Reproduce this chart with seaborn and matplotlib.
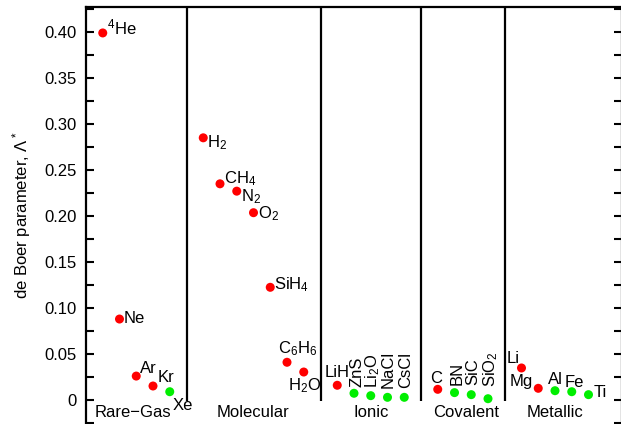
import matplotlib
matplotlib.use("Agg")
import matplotlib.pyplot as plt
import seaborn as sns
import pandas as pd
from matplotlib.ticker import MultipleLocator, FuncFormatter

# ---- data ----
labels = ["$^4$He", "Ne", "Ar", "Kr", "Xe",
          "H$_2$", "CH$_4$", "N$_2$", "O$_2$", "SiH$_4$", "C$_6$H$_6$", "H$_2$O",
          "LiH", "ZnS", "Li$_2$O", "NaCl", "CsCl",
          "C", "BN", "SiC", "SiO$_2$",
          "Li", "Mg", "Al", "Fe", "Ti"]
xpos = [1, 2, 3, 4, 5,
        7, 8, 9, 10, 11, 12, 13,
        15, 16, 17, 18, 19,
        21, 22, 23, 24,
        26, 27, 28, 29, 30]
boer = [0.399, 0.088, 0.026, 0.0152, 0.009,
        0.285, 0.235, 0.227, 0.2036, 0.1225, 0.041, 0.0304,
        0.016, 0.0073, 0.0047, 0.0029, 0.0029,
        0.0116, 0.008, 0.0058, 0.0014,
        0.0348, 0.0127, 0.0101, 0.009, 0.0058]
kind = ["r", "r", "r", "r", "g",
        "r", "r", "r", "r", "r", "r", "r",
        "r", "g", "g", "g", "g",
        "r", "g", "g", "g",
        "r", "r", "g", "g", "g"]
groups = ["Rare\u2212Gas", "Molecular", "Ionic", "Covalent", "Metallic"]
group_x = [2.8, 10, 17, 22.7, 28]
dividers = [6, 14, 20, 25]

# label placement (offset in pixels, rotation, alignment)
offsets = [(4, -1, 0, "left"), (4, -4, 0, "left"), (4, 3, 0, "left"), (5, 4, 0, "left"), (3, -18, 0, "left"),
           (4, -9, 0, "left"), (4, 1, 0, "left"), (4, -10, 0, "left"), (4, -6, 0, "left"), (4, -2, 0, "left"),
           (-9, 9, 0, "left"), (-16, -18, 0, "left"),
           (-13, 8, 0, "left"), (2.5, 6, 90, "center"), (1.5, 8, 90, "center"), (1, 9, 90, "center"), (1, 9, 90, "center"),
           (-2, 6, 0, "center"), (2.5, 8, 90, "center"), (1.5, 10, 90, "center"), (3, 12, 90, "center"),
           (-2, 5, 0, "right"), (-5, 2, 0, "right"), (-7, 7, 0, "left"), (-7, 5, 0, "left"), (5, -2, 0, "left")]

sns.set_style("ticks")
plt.rcParams["font.family"] = ["Liberation Sans", "DejaVu Sans"]
plt.rcParams["mathtext.fontset"] = "custom"
plt.rcParams["mathtext.rm"] = "Liberation Sans"
plt.rcParams["mathtext.default"] = "regular"
plt.rcParams["font.size"] = 12
plt.rcParams["text.color"] = "black"
plt.rcParams["axes.labelcolor"] = "black"
plt.rcParams["ytick.color"] = "black"

df = pd.DataFrame({"x": xpos, "y": boer, "kind": kind})

fig = plt.figure(figsize=(6.21, 4.24), dpi=100)
ax = fig.add_axes([86 / 621, 0.0, (622 - 86) / 621, (424 - 7) / 424])

sns.scatterplot(data=df, x="x", y="y", hue="kind", palette={"r": "#ff0000", "g": "#00ee00"},
                s=42, edgecolor="none", legend=False, ax=ax, zorder=3)

for lab, xx, yy, (dx, dy, rot, ha) in zip(labels, xpos, boer, offsets):
    if rot == 90:
        ax.annotate(lab, (xx, yy), xytext=(dx, dy), textcoords="offset pixels",
                    rotation=90, ha="center", va="bottom", fontsize=12)
    else:
        ax.annotate(lab, (xx, yy), xytext=(dx, dy), textcoords="offset pixels",
                    ha=ha, va="baseline", fontsize=12)

ax.vlines(dividers, ymin=-0.001, ymax=0.5, colors="black", linewidth=1.6)

for g, gx in zip(groups, group_x):
    ax.text(gx, -0.0135, g, ha="center", va="center", fontsize=12)

ax.set_xlim(0, 32)
ax.set_ylim(-0.0261, 0.4272)
ax.set_xticks([])
ax.set_xlabel("")
ax.set_ylabel("de Boer parameter, \u039b$^*$", fontsize=12, labelpad=8)
ax.yaxis.set_major_locator(MultipleLocator(0.05))
ax.yaxis.set_minor_locator(MultipleLocator(0.025))
ax.yaxis.set_major_formatter(FuncFormatter(lambda v, p: "0" if abs(v) < 1e-9 else f"{v:.2f}"))
ax.tick_params(axis="y", which="both", direction="in", length=6, width=1.5,
               left=True, right=True, labelsize=12, pad=7, colors="black")
for side in ["left", "top", "right"]:
    ax.spines[side].set_linewidth(1.6)
    ax.spines[side].set_color("black")
ax.spines["bottom"].set_visible(False)

fig.savefig("out.png", dpi=100)
